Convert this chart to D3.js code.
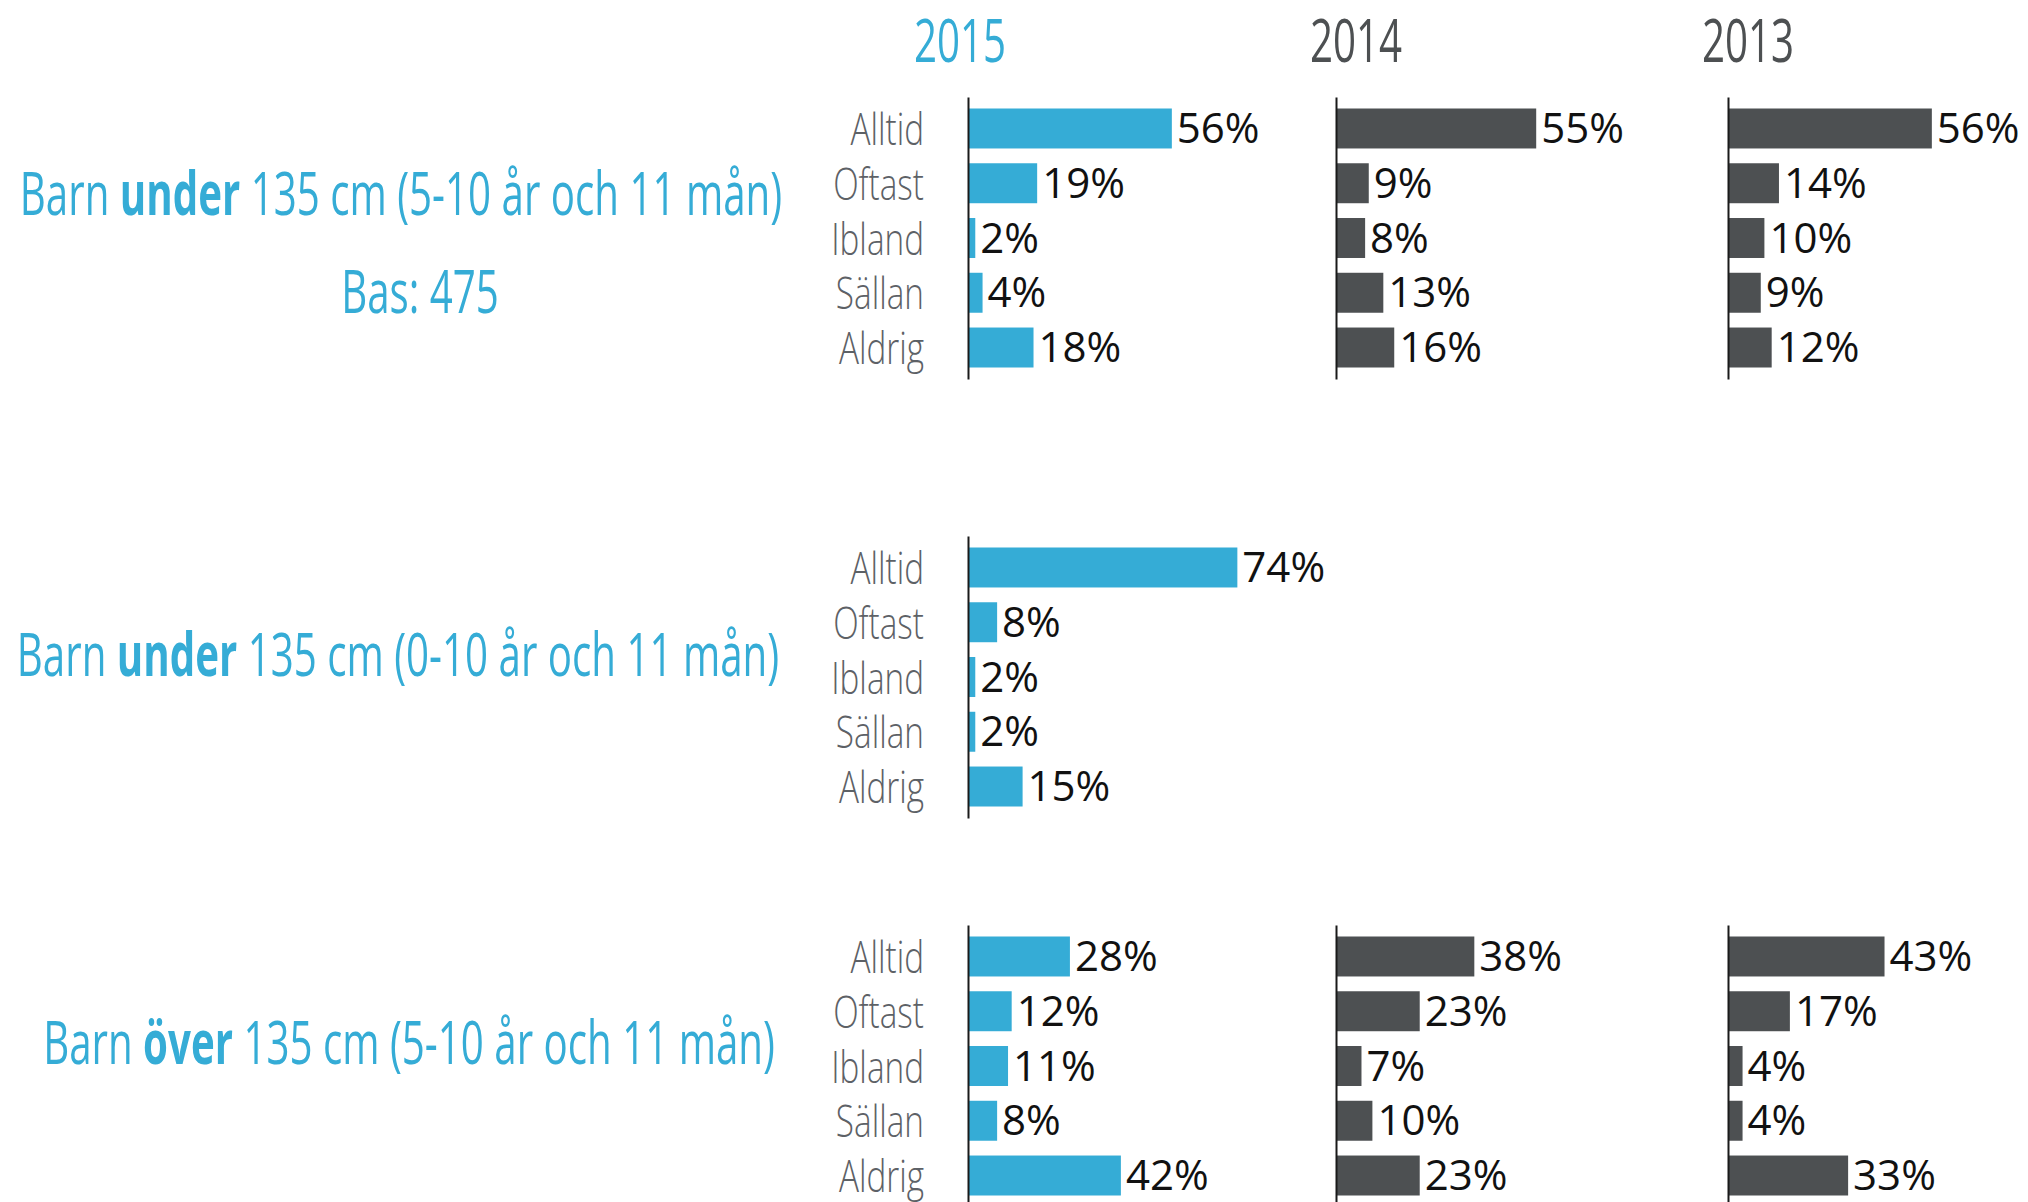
<!DOCTYPE html>
<html>
<head>
<meta charset="utf-8">
<script src="https://cdn.jsdelivr.net/npm/d3@7"></script>
<style>
  body { margin: 0; background: #fff; }
  text { font-family: "Open Sans", sans-serif; }
</style>
</head>
<body>
<div id="container"></div>
<script>
// kategorier och år
let categories = ["Alltid", "Oftast", "Ibland", "Sällan", "Aldrig"];
let years = ["2015", "2014", "2013"];

// Barn under 135 cm (5-10 år och 11 mån)
let under510_2015 = [56, 19, 2, 4, 18];
let under510_2014 = [55, 9, 8, 13, 16];
let under510_2013 = [56, 14, 10, 9, 12];

// Barn under 135 cm (0-10 år och 11 mån), bara 2015
let under010_2015 = [74, 8, 2, 2, 15];

// Barn över 135 cm (5-10 år och 11 mån)
let over510_2015 = [28, 12, 11, 8, 42];
let over510_2014 = [38, 23, 7, 10, 23];
let over510_2013 = [43, 17, 4, 4, 33];

let panels = [
  { title: ["Barn ", "under", " 135 cm (5-10 år och 11 mån)"], sub: "Bas: 475",
    series: [under510_2015, under510_2014, under510_2013] },
  { title: ["Barn ", "under", " 135 cm (0-10 år och 11 mån)"], sub: null,
    series: [under010_2015] },
  { title: ["Barn ", "över", " 135 cm (5-10 år och 11 mån)"], sub: null,
    series: [over510_2015, over510_2014, over510_2013] }
];

let w = 2028;
let h = 1202;
let blue = "#35acd6";
let dark = "#4d5052";
let squeeze = 0.66;      // the original uses a condensed face
let labelSqueeze = 0.74;

let colX = [968, 1336, 1728];
let headOffset = [-8, 20, 20];
let panelTop = [97, 536, 925];
let bandLen = 282;
let titleX = [401, 398, 409];
let titleY = [215, 676, 1064];

let viz = d3.select("#container")
  .append("svg")
    .attr("width", w)
    .attr("height", h)
;

let xScale = d3.scaleLinear().domain([0, 100]).range([0, 364]);

// year headings
viz.selectAll(".year").data(years).enter()
  .append("text")
    .attr("class", "year")
    .attr("transform", function(d, i) { return "translate(" + (colX[i] + headOffset[i]) + ",62) scale(" + squeeze + ",1)"; })
    .attr("text-anchor", "middle")
    .attr("font-size", 61)
    .attr("fill", function(d, i) { return i == 0 ? blue : dark; })
    .text(function(d) { return d; })
;

panels.forEach(function(p, pi) {
  let y = d3.scaleBand()
    .domain(categories)
    .range([panelTop[pi], panelTop[pi] + bandLen])
    .paddingInner(0.27)
    .paddingOuter(0.21);

  // title on the left
  let t = viz.append("text")
    .attr("transform", "translate(" + titleX[pi] + "," + titleY[pi] + ") scale(" + squeeze + ",1)")
    .attr("text-anchor", "middle")
    .attr("font-size", 61)
    .attr("fill", blue);
  t.append("tspan").text(p.title[0]);
  t.append("tspan").attr("font-weight", 700).text(p.title[1]);
  t.append("tspan").text(p.title[2]);

  if (p.sub) {
    viz.append("text")
      .attr("transform", "translate(420," + (titleY[pi] + 98) + ") scale(" + squeeze + ",1)")
      .attr("text-anchor", "middle")
      .attr("font-size", 61)
      .attr("fill", blue)
      .text(p.sub);
  }

  p.series.forEach(function(vals, ci) {
    let data = categories.map(function(c, k) { return { cat: c, v: vals[k] }; });
    let g = viz.append("g")
      .attr("transform", "translate(" + colX[ci] + ",0)");

    g.selectAll(".bar").data(data).enter()
      .append("rect")
        .attr("class", "bar")
        .attr("x", 0)
        .attr("y", function(d) { return y(d.cat); })
        .attr("width", function(d) { return xScale(d.v); })
        .attr("height", y.bandwidth())
        .attr("fill", ci == 0 ? blue : dark)
    ;

    g.selectAll(".val").data(data).enter()
      .append("text")
        .attr("class", "val")
        .attr("x", function(d) { return xScale(d.v) + 5; })
        .attr("y", function(d) { return y(d.cat) + y.bandwidth() / 2; })
        .attr("dy", "0.35em")
        .attr("font-size", 42)
        .attr("fill", "#111")
        .text(function(d) { return d.v + "%"; })
    ;

    let ax = g.append("g")
      .call(d3.axisLeft(y).tickSize(0).tickSizeOuter(0)
        .tickFormat(ci == 0 ? function(d) { return d; } : function() { return ""; }));
    ax.attr("font-family", null).attr("font-size", null).attr("color", "#1a1a1a");
    ax.select(".domain").attr("stroke-width", 2);
    ax.selectAll(".tick text")
      .attr("x", -44 / labelSqueeze)
      .attr("dy", "0.37em")
      .attr("transform", "scale(" + labelSqueeze + ",1)")
      .attr("font-size", 45)
      .attr("font-weight", 300)
      .attr("fill", "#5d6166");
  });
});
</script>
</body>
</html>
